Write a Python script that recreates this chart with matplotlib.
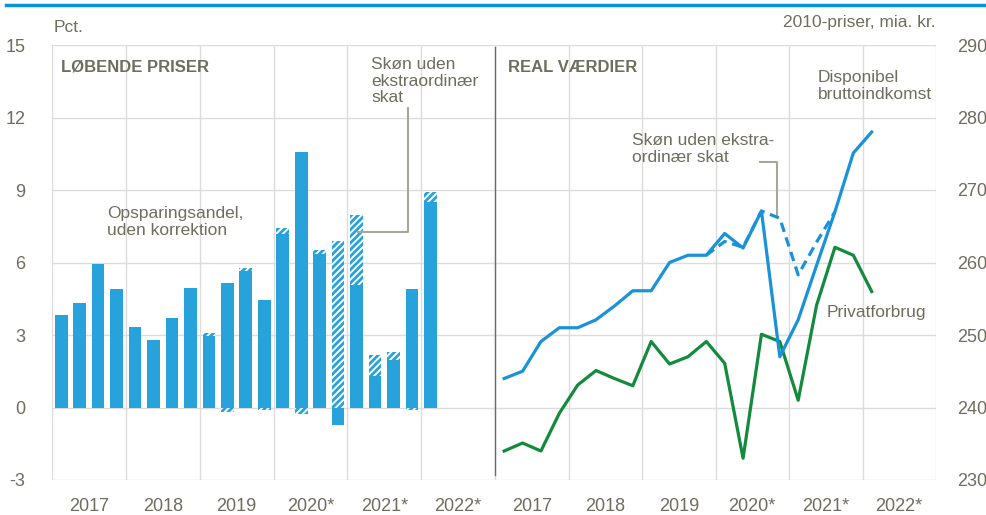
import matplotlib.pyplot as plt
import numpy as np
from matplotlib.lines import Line2D

plt.rcParams['font.family'] = ['Liberation Sans', 'DejaVu Sans']
plt.rcParams['hatch.linewidth'] = 2.0
plt.rcParams['axes.unicode_minus'] = False

# kvartaler 2017K1 - 2022K1
kvartaler = np.arange(21)
aar = ['2017', '2018', '2019', '2020*', '2021*', '2022*']

# opsparingsandel, uden korrektion (pct.)
opsparing = [3.81, 4.34, 5.92, 4.91, 3.34, 2.80, 3.71, 4.95, 2.95, 5.16, 5.65,
             4.45, 7.20, 10.58, 6.34, -0.72, 5.05, 1.32, 1.97, 4.91, 8.50]
# forskel til skøn uden ekstraordinær skat
skat_korr = [0, 0, 0, 0, 0, 0, 0, 0, 0.15, -0.17, 0.14, -0.10, 0.23, -0.28,
             0.16, 6.87, 2.93, 0.87, 0.31, -0.12, 0.40]

# real værdier, 2010-priser, mia. kr.
disponibel = [244.0, 245.0, 249.1, 251.0, 251.0, 252.1, 254.0, 256.1, 256.1,
              260.0, 261.0, 261.0, 264.0, 262.0, 267.1, 247.0, 252.1, 259.6,
              267.0, 275.1, 278.0]
disponibel_skon = [np.nan] * 11 + [261.0, 262.9, 262.1, 267.1, 266.1, 258.3,
                                   262.8, 267.0] + [np.nan] * 2
privatforbrug = [234.0, 235.1, 234.0, 239.2, 243.1, 245.1, 244.0, 243.0, 249.1,
                 246.0, 247.0, 249.1, 246.1, 233.0, 250.1, 249.1, 241.0, 254.1,
                 262.1, 261.0, 256.0]

W, H = 987, 515
tekst = '#6f6d5f'
blaa_bar = '#27a2db'
blaa = '#1a92d8'
groen = '#138a3c'
gitter = '#dcdcdc'

fig = plt.figure(figsize=(W / 100, H / 100), dpi=100)
ax1 = fig.add_axes([52 / W, 35 / H, 443 / W, 435 / H])
ax2 = fig.add_axes([495 / W, 35 / H, 441 / W, 435 / H])

x = 2017 + (kvartaler + 0.5) / 4

for ax in (ax1, ax2):
    ax.set_xlim(2017, 2023)
    ax.set_xticks(np.arange(2017, 2024))
    ax.set_xticks(np.arange(2017, 2023) + 0.5, minor=True)
    ax.set_xticklabels([], minor=False)
    ax.set_xticklabels(aar, minor=True)
    ax.tick_params(axis='x', which='both', length=0, pad=13, labelsize=13,
                   labelcolor=tekst)
    ax.tick_params(axis='y', length=0, labelsize=13, labelcolor=tekst)
    ax.grid(True, which='major', color=gitter, lw=1)
    ax.set_axisbelow(True)
    for s in ax.spines.values():
        s.set_visible(False)

# venstre panel: søjler
opsp = np.array(opsparing)
korr = np.array(skat_korr)
bund = np.where(korr >= 0, np.maximum(opsp, 0), np.minimum(opsp, 0))
bw = 0.172
ax1.bar(x, opsp, width=bw, color=blaa_bar, zorder=2)
ax1.bar(x, korr, bottom=bund, width=bw, color='white', edgecolor=blaa_bar,
        hatch='/////', linewidth=0, zorder=2)
ax1.set_ylim(-3, 15)
ax1.set_yticks(np.arange(-3, 16, 3))
ax1.tick_params(axis='y', pad=19)
ax1.plot([2021.82, 2021.82, 2021.15], [12.39, 7.26, 7.26], color='#a8a59a',
         lw=1.5, zorder=3)

# højre panel: linjer
ax2.plot(x, privatforbrug, color=groen, lw=2.3, zorder=3)
ax2.plot(x, disponibel_skon, color=blaa, lw=2.3, dashes=(3, 1.8), zorder=3)
ax2.plot(x, disponibel, color=blaa, lw=2.3, zorder=4)
ax2.set_ylim(230, 290)
ax2.set_yticks(np.arange(230, 291, 10))
ax2.yaxis.tick_right()
ax2.tick_params(axis='y', pad=15)
ax2.plot([2020.60, 2020.84, 2020.84], [273.8, 273.8, 266.3], color='#a8a59a',
         lw=1.5, zorder=2)


def txt(px, py, s, **kw):
    kw.setdefault('fontsize', 12.5)
    kw.setdefault('color', tekst)
    kw.setdefault('va', 'center')
    fig.text(px / W, 1 - py / H, s, **kw)


txt(54, 28, 'Pct.')
txt(936, 22, '2010-priser, mia. kr.', ha='right')
txt(61, 67, 'LØBENDE PRISER', fontweight='bold', fontsize=12)
txt(508, 67, 'REAL VÆRDIER', fontweight='bold', fontsize=12)
txt(107, 222, 'Opsparingsandel,\nuden korrektion', linespacing=1.15)
txt(371, 81, 'Skøn uden\nekstraordinær\nskat', linespacing=1.15)
txt(818, 86, 'Disponibel\nbruttoindkomst', linespacing=1.15)
txt(632, 149, 'Skøn uden ekstra-\nordinær skat', linespacing=1.15)
txt(827, 313, 'Privatforbrug')

# skillelinje og blå top-linje
fig.add_artist(Line2D([495 / W, 495 / W], [1 - 47 / H, 1 - 475 / H],
                      color='#6b6b6b', lw=1))
fig.add_artist(Line2D([6 / W, 1], [1 - 5 / H, 1 - 5 / H], color='#0a92d6',
                      lw=2.5))

fig.savefig('out.png', dpi=100)
